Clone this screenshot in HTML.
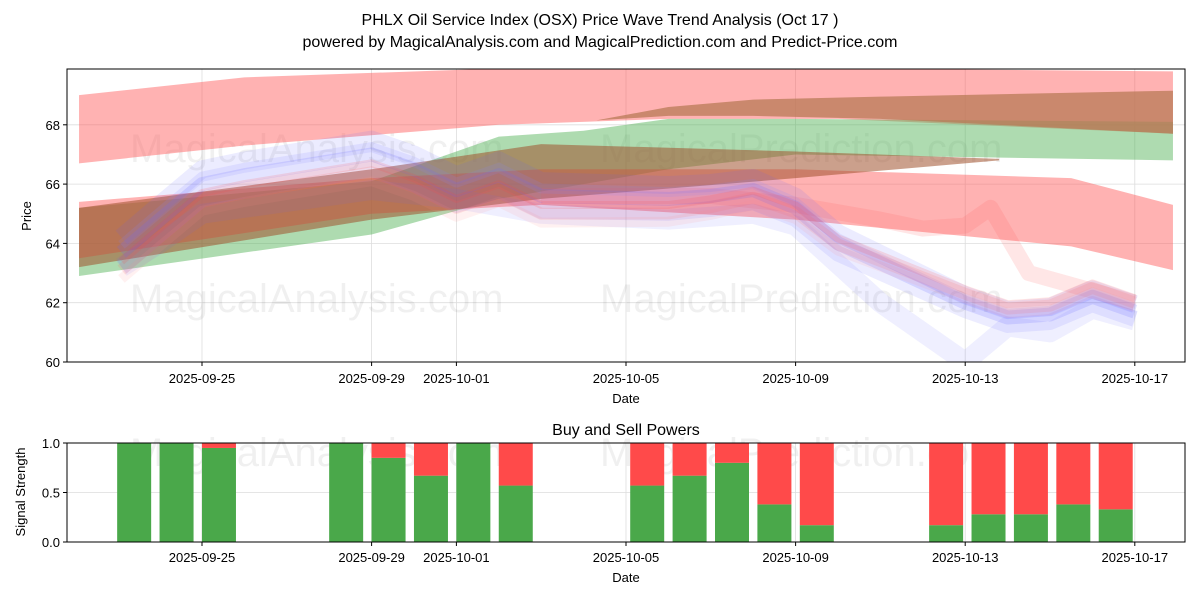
<!DOCTYPE html>
<html><head><meta charset="utf-8">
<style>
body{margin:0;background:#fff;font-family:"Liberation Sans",sans-serif;}
svg text{font-family:"Liberation Sans","DejaVu Sans",sans-serif;}
</style></head>
<body>
<svg id="chart" width="1200" height="600" xmlns="http://www.w3.org/2000/svg">
<text x="600" y="25" font-size="16" text-anchor="middle">PHLX Oil Service Index (OSX) Price Wave Trend Analysis (Oct 17 )</text>
<text x="600" y="47" font-size="16" text-anchor="middle">powered by MagicalAnalysis.com and MagicalPrediction.com and Predict-Price.com</text>
<g id="topchart"></g>
<g id="bottomchart"></g>
</svg>
<script>
const tickDays=[0,4,6,10,14,18,22];
const tickLabels=["2025-09-25","2025-09-29","2025-10-01","2025-10-05","2025-10-09","2025-10-13","2025-10-17"];
const priceTicks=[60,62,64,66,68];
const priceDays=[-1.9,-1,0,1,4,5,6,7,8,11,12,13,14,15,18,19,20,21,22];
const priceVals=[63.7,64.8,66.0,66.3,67.0,66.5,65.8,66.3,65.6,65.5,65.6,65.8,65.2,64.0,62.0,61.5,61.6,62.2,61.7];
const blueLowDays=[-1.9,-1,0,4,6,8,11,13,14,16,18,19,20,21,22];
const blueLowVals=[63.2,64.0,65.0,65.8,65.5,65.0,64.8,65.0,64.6,62.0,60.0,61.2,61.0,61.8,61.4];
const redSpikeDays=[8,12,14,16,17,18,18.6,19.5,21,22];
const redSpikeVals=[65.6,65.6,65.3,64.8,64.5,64.6,65.2,63.0,62.4,62.0];
const redTopDays=[-2.9,1,7,11,15,22.9];const redTopLo=[66.7,67.3,68.0,68.2,68.2,67.7];const redTopHi=[69.0,69.6,69.9,69.9,69.9,69.8];
const greenDays=[-2.9,4,7,9,11,14,22.9];const greenLo=[62.9,64.3,65.5,66.0,66.5,67.0,66.8];const greenHi=[65.2,66.1,67.6,67.8,68.2,68.2,68.1];
const brownUpDays=[9.3,11,13,16,22.9];const brownUpLo=[68.15,68.3,68.3,68.2,67.7];const brownUpHi=[68.15,68.6,68.85,68.95,69.15];
const brownDays=[-2.9,4,8,14,18.8];const brownLo=[63.2,64.8,65.5,66.2,66.8];const brownHi=[65.2,66.5,67.35,67.1,66.85];
const redDownDays=[-2.9,4,8,14,20.5,22.9];const redDownLo=[63.5,65.0,65.3,64.8,63.9,63.1];const redDownHi=[65.4,66.2,66.5,66.5,66.2,65.3];
const buyDays=[-1.6,-0.6,0.4,3.4,4.4,5.4,6.4,7.4,10.5,11.5,12.5,13.5,14.5,17.55,18.55,19.55,20.55,21.55];
const buyVals=[1,1,0.95,1,0.85,0.67,1,0.57,0.57,0.67,0.8,0.38,0.17,0.17,0.28,0.28,0.38,0.33];
const NS="http://www.w3.org/2000/svg";
const X=d=>202+d*42.4;
const Y=v=>362-(v-60)*29.65;
const Yb=v=>542-v*99;
function mk(tag,attrs,parent){const e=document.createElementNS(NS,tag);for(const k in attrs)e.setAttribute(k,attrs[k]);parent.appendChild(e);return e;}
const topG=document.getElementById('topchart'),bot=document.getElementById('bottomchart');
tickDays.forEach(d=>{const l=mk('line',{x1:X(d),x2:X(d),y1:69,y2:362,stroke:'#ddd','stroke-width':0.8},topG);
 
 });
priceTicks.forEach(v=>{const l=mk('line',{x1:67,x2:1185,y1:Y(v),y2:Y(v),stroke:'#ddd','stroke-width':0.8},topG);
 
 });
[[130,162,"MagicalAnalysis.com"],[600,162,"MagicalPrediction.com"],[130,312,"MagicalAnalysis.com"],[600,312,"MagicalPrediction.com"],[130,466,"MagicalAnalysis.com"],[600,466,"MagicalPrediction.com"]].forEach(w=>{
 const t=mk('text',{x:w[0],y:w[1],'font-size':40,fill:'#000','fill-opacity':0.06},topG);t.textContent=w[2];
 
 });
const clip=mk('clipPath',{id:'cp'},topG);mk('rect',{x:67,y:69,width:1118,height:293},clip);
const plot=mk('g',{'clip-path':'url(#cp)'},topG);
function band(days,lo,hi,color,op,name){
 let pts=days.map((d,i)=>X(d)+','+Y(hi[i]));
 pts=pts.concat(days.map((d,i)=>X(d)+','+Y(lo[i])).reverse());
 const p=mk('polygon',{points:pts.join(' '),fill:color,'fill-opacity':op},plot);
 
 }
function line(days,vals,color,op,w,name){
 const l=mk('polyline',{points:days.map((d,i)=>X(d)+','+Y(vals[i])).join(' '),fill:'none',stroke:color,'stroke-opacity':op,'stroke-width':w,'stroke-linejoin':'round'},plot);
 
 }
band(redTopDays,redTopLo,redTopHi,'#ff5555',0.45,'red-upper-band');
band(greenDays,greenLo,greenHi,'#4caf50',0.45,'green-band');
band(brownUpDays,brownUpLo,brownUpHi,'#b87a55',0.75,'brown-upper-band');
band(redDownDays,redDownLo,redDownHi,'#ff5555',0.45,'red-descending-band');
band(brownDays,brownLo,brownHi,'#a0522d',0.55,'brown-band');
line(blueLowDays,blueLowVals,'#6666ff',0.1,20,'blue-low-wave');
line(redSpikeDays,redSpikeVals,'#ff5555',0.15,16,'red-spike-wave');
const offs=[[0,'#6666ff',0.18,14,0],[0.5,'#6666ff',0.12,18,0],[-0.5,'#6666ff',0.12,16,0],[0.25,'#8888ff',0.15,10,0],[-0.6,'#ff6666',0.15,12,1],[-0.3,'#ff4444',0.15,8,1],[-0.9,'#ff8888',0.12,10,1]];
offs.forEach(o=>{
 const pts=priceDays.map((d,i)=>{const f=Math.min(1,Math.max(0,(d-10)/8));return X(d)+','+Y(priceVals[i]+o[0]*(1-0.5*f)+o[4]*f*0.6);});
 const l=mk('polyline',{points:pts.join(' '),fill:'none',stroke:o[1],'stroke-opacity':o[2],'stroke-width':o[3],'stroke-linejoin':'round'},plot);
 
 });
mk('rect',{x:67,y:69,width:1118,height:293,fill:'none',stroke:'#000','stroke-width':1},topG);
tickDays.forEach((d,i)=>{mk('line',{x1:X(d),x2:X(d),y1:362,y2:366,stroke:'#000'},topG);
 const t=mk('text',{x:X(d),y:383,'font-size':13,'text-anchor':'middle'},topG);t.textContent=tickLabels[i];
 
 });
priceTicks.forEach(v=>{mk('line',{x1:63,x2:67,y1:Y(v),y2:Y(v),stroke:'#000'},topG);
 const t=mk('text',{x:60,y:Y(v)+5,'font-size':13,'text-anchor':'end'},topG);t.textContent=v;
 
 });
let t=mk('text',{x:626,y:403,'font-size':13,'text-anchor':'middle'},topG);t.textContent='Date';


t=mk('text',{x:31,y:216,'font-size':13,'text-anchor':'middle',transform:'rotate(-90 31 216)'},topG);t.textContent='Price';


t=mk('text',{x:626,y:435,'font-size':16,'text-anchor':'middle'},bot);t.textContent='Buy and Sell Powers';


tickDays.forEach(d=>{const l=mk('line',{x1:X(d),x2:X(d),y1:443,y2:542,stroke:'#ddd','stroke-width':0.8},bot);
 
 });
[0,0.5,1].forEach(v=>{const l=mk('line',{x1:67,x2:1185,y1:Yb(v),y2:Yb(v),stroke:'#ddd','stroke-width':0.8},bot);
 
 });
buyDays.forEach((d,i)=>{const w=34,x=X(d)-w/2;
 const g=mk('rect',{x:x,y:Yb(buyVals[i]),width:w,height:Yb(0)-Yb(buyVals[i]),fill:'#4aa84a'},bot);
 
 
 const r=mk('rect',{x:x,y:Yb(1),width:w,height:Yb(buyVals[i])-Yb(1),fill:'#ff4a4a'},bot);
 
 });
mk('rect',{x:67,y:443,width:1118,height:99,fill:'none',stroke:'#000','stroke-width':1},bot);
tickDays.forEach((d,i)=>{mk('line',{x1:X(d),x2:X(d),y1:542,y2:546,stroke:'#000'},bot);
 const t=mk('text',{x:X(d),y:562,'font-size':13,'text-anchor':'middle'},bot);t.textContent=tickLabels[i];
 
 });
[0,0.5,1].forEach(v=>{mk('line',{x1:63,x2:67,y1:Yb(v),y2:Yb(v),stroke:'#000'},bot);
 const t=mk('text',{x:60,y:Yb(v)+5,'font-size':13,'text-anchor':'end'},bot);t.textContent=v.toFixed(1);
 
 });
t=mk('text',{x:626,y:582,'font-size':13,'text-anchor':'middle'},bot);t.textContent='Date';


t=mk('text',{x:25,y:492,'font-size':13,'text-anchor':'middle',transform:'rotate(-90 25 492)'},bot);t.textContent='Signal Strength';


</script>
</body></html>
